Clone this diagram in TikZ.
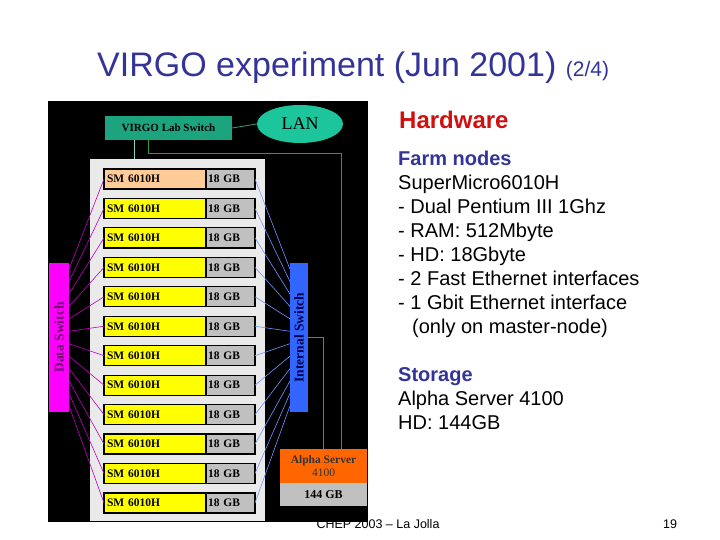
\documentclass[tikz,border=0pt]{standalone}
\usepackage{fontspec}
\setmainfont{Liberation Sans}
\newfontfamily\boxserif{Liberation Serif}
\usetikzlibrary{positioning, calc, shapes.geometric}

\definecolor{titleblue}{HTML}{333399}
\definecolor{hwred}{HTML}{D01010}
\definecolor{labgreen}{HTML}{1CA47E}
\definecolor{langreen}{HTML}{1DC59C}
\definecolor{panelgrey}{HTML}{EAEAEA}
\definecolor{nodeyellow}{HTML}{FFFF00}
\definecolor{nodepeach}{HTML}{FFCC99}
\definecolor{diskgrey}{HTML}{C0C0C0}
\definecolor{dataswitch}{HTML}{FF00FF}
\definecolor{intswitch}{HTML}{3366FF}
\definecolor{alphaorange}{HTML}{FF6600}

\begin{document}
\begin{tikzpicture}[x=1pt, y=-1pt]
    % Setup the styles for the boxes and the links
    \tikzset{box/.style={inner sep=0pt, outer sep=0pt,
                         font=\boxserif\bfseries\fontsize{11}{12}\selectfont},
             sm box/.style={box, draw=black, line width=1.2pt, anchor=west,
                            minimum height=20pt, text width=96pt, inner xsep=3pt,
                            font=\boxserif\bfseries\fontsize{11.5}{12}\selectfont},
             gb box/.style={sm box, fill=diskgrey, text width=45pt, inner xsep=2pt},
             switch box/.style={box, minimum height=149pt,
                                font=\boxserif\bfseries\fontsize{13.5}{14}\selectfont},
             data link/.style={draw=dataswitch!75!black, line width=0.6pt},
             int link/.style={draw=intswitch!70!white, line width=0.6pt},
             body/.style={anchor=base west, align=left, inner sep=0pt,
                          font=\fontsize{20}{24}\selectfont}}
    \useasboundingbox (0,0) rectangle (720,540);

    % Slide title and footer
    \node[anchor=base west, text=titleblue, inner sep=0pt] (title) at (97,77)
        {\fontsize{34}{38}\selectfont VIRGO experiment (Jun 2001) \fontsize{21}{24}\selectfont(2/4)};
    \node[inner sep=0pt, font=\fontsize{12.5}{14}\selectfont] (footer) at (378,524) {CHEP 2003 -- La Jolla};
    \node[inner sep=0pt, font=\fontsize{12.5}{14}\selectfont] (page) at (670,524) {19};

    % Background of the farm drawing
    \node[fill=black, minimum width=320pt, minimum height=421pt, inner sep=0pt] (farm) at (208,311.5) {};
    \node[fill=panelgrey, minimum width=175pt, minimum height=361pt, inner sep=0pt] (panel) at (177.5,340) {};

    % Lab switch and LAN
    \node[box, fill=labgreen, minimum width=127pt, minimum height=24pt] (labsw) at (168.5,128) {VIRGO Lab Switch};
    \node[ellipse, fill=langreen, minimum width=86pt, minimum height=38pt, inner sep=0pt,
          font=\boxserif\fontsize{18}{18}\selectfont] (lan) at (300,124) {LAN};

    % Farm nodes
    \foreach \i in {1,...,12} {
        \pgfmathsetmacro\rowy{179+(\i-1)*29.45}
        \ifnum\i=1 \colorlet{rowfill}{nodepeach}\else\colorlet{rowfill}{nodeyellow}\fi
        \node[sm box, fill=rowfill] (sm\i) at (104,\rowy) {SM 6010H};
        \node[gb box] (gb\i) at (sm\i.east) {18 GB};
    }

    % Switches
    \node[switch box, fill=dataswitch, minimum width=20pt, text=dataswitch!40!black] (dswitch) at (59,337.5)
        {\rotatebox{90}{Data Switch}};
    \node[switch box, fill=intswitch, minimum width=18pt, text=blue!30!black] (iswitch) at (299,337.5)
        {\rotatebox{90}{Internal Switch}};

    % Storage server
    \node[box, fill=alphaorange, minimum width=87pt, minimum height=34pt, align=center,
          text=black!80, font=\boxserif\bfseries\fontsize{11.5}{13}\selectfont] (alpha) at (323.5,466)
        {Alpha Server\\{\mdseries 4100}};
    \node[box, fill=diskgrey, minimum width=87pt, minimum height=23pt,
          font=\boxserif\bfseries\fontsize{12}{13}\selectfont] (adisk) at (323.5,494.5) {144 GB};

    % Links to the switches
    \foreach \i in {1,...,12} {
        \draw[data link] (sm\i.west) -- ($(dswitch.north east)!{(\i-0.5)/12}!(dswitch.south east)$);
        \draw[int link] (gb\i.east) -- ($(iswitch.north west)!{(\i-0.5)/12}!(iswitch.south west)$);
    }

    % Uplinks
    \draw[draw=labgreen!60!gray, line width=0.8pt] (labsw.east) -- (lan.west);
    \draw[draw=labgreen!50!white, line width=0.8pt]
        ($(labsw.south west)!0.23!(labsw.south east)$) coordinate (uplink) -- (uplink |- panel.north);
    \draw[draw=green!50!black!80, line width=0.8pt]
        ($(labsw.south west)!0.34!(labsw.south east)$) -- ++(0,13) -| ($(alpha.north west)!0.70!(alpha.north east)$);
    \draw[draw=intswitch!50!gray, line width=0.8pt] (iswitch.east) -| (alpha.north);

    % Hardware description (anchored on the baseline of the last line)
    \node[body, text=hwred, font=\bfseries\fontsize{24}{24}\selectfont] (hw) at (399,129) {Hardware};
    \node[body] (farmtext) at (398,333)
        {\textcolor{titleblue}{\bfseries Farm nodes}\\
         SuperMicro6010H\\
         - Dual Pentium III 1Ghz\\
         - RAM: 512Mbyte\\
         - HD: 18Gbyte\\
         - 2 Fast Ethernet interfaces\\
         - 1 Gbit Ethernet interface\\
         \hspace*{14pt}(only on master-node)};
    \node[body] (storetext) at (398,429)
        {\textcolor{titleblue}{\bfseries Storage}\\
         Alpha Server 4100\\
         HD: 144GB};
\end{tikzpicture}
\end{document}
